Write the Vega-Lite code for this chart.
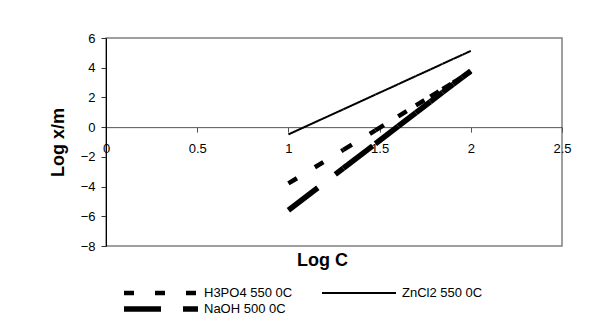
{
  "$schema": "https://vega.github.io/schema/vega-lite/v6.json",
  "width": 456,
  "height": 208,
  "autosize": {"type": "none"},
  "padding": {"left": 106, "top": 38, "right": 30, "bottom": 84},
  "background": "white",
  "config": {
    "font": "Liberation Sans",
    "view": {"stroke": "#808080", "strokeWidth": 1.5},
    "axis": {"grid": false}
  },
  "data": {
    "values": [
      {"series": "H3PO4 550 0C", "logC": 1, "logxm": -3.79},
      {"series": "H3PO4 550 0C", "logC": 1.301, "logxm": -1.53},
      {"series": "H3PO4 550 0C", "logC": 1.477, "logxm": -0.22},
      {"series": "H3PO4 550 0C", "logC": 1.602, "logxm": 0.73},
      {"series": "H3PO4 550 0C", "logC": 1.699, "logxm": 1.46},
      {"series": "H3PO4 550 0C", "logC": 1.778, "logxm": 2.05},
      {"series": "H3PO4 550 0C", "logC": 1.845, "logxm": 2.56},
      {"series": "H3PO4 550 0C", "logC": 1.903, "logxm": 2.99},
      {"series": "H3PO4 550 0C", "logC": 1.954, "logxm": 3.37},
      {"series": "H3PO4 550 0C", "logC": 2, "logxm": 3.72},
      {"series": "ZnCl2 550 0C", "logC": 1, "logxm": -0.49},
      {"series": "ZnCl2 550 0C", "logC": 1.301, "logxm": 1.2},
      {"series": "ZnCl2 550 0C", "logC": 1.477, "logxm": 2.19},
      {"series": "ZnCl2 550 0C", "logC": 1.602, "logxm": 2.89},
      {"series": "ZnCl2 550 0C", "logC": 1.699, "logxm": 3.44},
      {"series": "ZnCl2 550 0C", "logC": 1.778, "logxm": 3.88},
      {"series": "ZnCl2 550 0C", "logC": 1.845, "logxm": 4.26},
      {"series": "ZnCl2 550 0C", "logC": 1.903, "logxm": 4.59},
      {"series": "ZnCl2 550 0C", "logC": 1.954, "logxm": 4.87},
      {"series": "ZnCl2 550 0C", "logC": 2, "logxm": 5.13},
      {"series": "NaOH 500 0C", "logC": 1, "logxm": -5.59},
      {"series": "NaOH 500 0C", "logC": 1.301, "logxm": -2.77},
      {"series": "NaOH 500 0C", "logC": 1.477, "logxm": -1.12},
      {"series": "NaOH 500 0C", "logC": 1.602, "logxm": 0.06},
      {"series": "NaOH 500 0C", "logC": 1.699, "logxm": 0.97},
      {"series": "NaOH 500 0C", "logC": 1.778, "logxm": 1.71},
      {"series": "NaOH 500 0C", "logC": 1.845, "logxm": 2.34},
      {"series": "NaOH 500 0C", "logC": 1.903, "logxm": 2.88},
      {"series": "NaOH 500 0C", "logC": 1.954, "logxm": 3.36},
      {"series": "NaOH 500 0C", "logC": 2, "logxm": 3.79}
    ]
  },
  "transform": [
    {
      "window": [
        {"op": "lead", "field": "logC", "as": "logC2"},
        {"op": "lead", "field": "logxm", "as": "logxm2"}
      ],
      "groupby": ["series"],
      "sort": [{"field": "logC", "order": "ascending"}]
    },
    {"filter": "isValid(datum.logC2)"}
  ],
  "mark": {"type": "rule", "strokeCap": "butt", "color": "black"},
  "encoding": {
    "x": {
      "field": "logC",
      "type": "quantitative",
      "scale": {"domain": [0, 2.5], "nice": false, "zero": false},
      "axis": {
        "title": "Log C",
        "values": [0, 0.5, 1, 1.5, 2, 2.5],
        "format": "~g",
        "offset": -118.86,
        "labelFlush": false,
        "labelOverlap": false,
        "tickSize": 5,
        "labelPadding": 10,
        "labelFontSize": 13,
        "labelColor": "#000",
        "domainColor": "#555",
        "tickColor": "#555",
        "titleFontSize": 18,
        "titleFontWeight": "bold",
        "titleColor": "#000",
        "titleX": 216,
        "titleY": 133,
        "titleBaseline": "middle"
      }
    },
    "x2": {"field": "logC2"},
    "y": {
      "field": "logxm",
      "type": "quantitative",
      "scale": {"domain": [-8, 6], "nice": false, "zero": false},
      "axis": {
        "title": "Log x/m",
        "values": [-8, -6, -4, -2, 0, 2, 4, 6],
        "tickSize": 5,
        "labelPadding": 6,
        "labelFontSize": 13,
        "labelColor": "#000",
        "domainColor": "#000",
        "tickColor": "#333",
        "titleFontSize": 18,
        "titleFontWeight": "bold",
        "titleColor": "#000",
        "titleX": -48,
        "titleBaseline": "middle"
      }
    },
    "y2": {"field": "logxm2"},
    "strokeDash": {
      "field": "series",
      "type": "nominal",
      "scale": {
        "domain": ["H3PO4 550 0C", "ZnCl2 550 0C", "NaOH 500 0C"],
        "range": [[10, 21], [1, 0], [37, 22]]
      },
      "legend": {
        "title": null,
        "orient": "none",
        "legendX": 15,
        "legendY": 248,
        "direction": "horizontal",
        "columns": 2,
        "symbolType": "stroke",
        "symbolSize": 5476,
        "symbolStrokeColor": "black",
        "labelFontSize": 13,
        "labelColor": "#000",
        "labelOffset": 3,
        "columnPadding": 26,
        "clipHeight": 14,
        "rowPadding": 2
      }
    },
    "strokeWidth": {
      "field": "series",
      "type": "nominal",
      "scale": {
        "type": "ordinal",
        "domain": ["H3PO4 550 0C", "ZnCl2 550 0C", "NaOH 500 0C"],
        "range": [4.5, 2, 5.5]
      }
    }
  }
}
